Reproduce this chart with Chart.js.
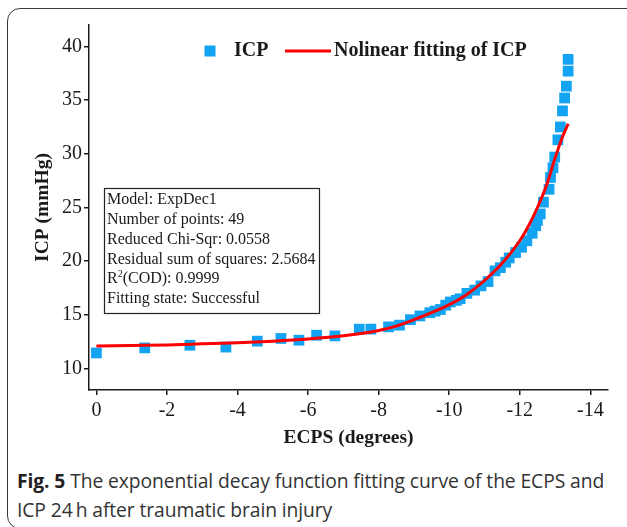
<!DOCTYPE html>
<html>
<head>
<meta charset="utf-8">
<script src="https://cdn.jsdelivr.net/npm/chart.js@4.4.1/dist/chart.umd.min.js"></script>
<style>
  body { margin: 0; background: #fff; width: 627px; height: 527px; overflow: hidden; position: relative; }
  .card { position: absolute; left: 7px; top: 8px; width: 700px; height: 519px; border: 1.5px solid #3a3a3a; border-radius: 13px; }
  #wrap { position: absolute; left: 0; top: 0; width: 627px; height: 460px; }
  .caption { position: absolute; left: 17px; top: 466px; width: 604px; font-family: "Open Sans", sans-serif; font-size: 19.3px; line-height: 29px; color: #333; letter-spacing: -0.1px; }
  .caption b { color: #222; }
</style>
</head>
<body>
<div class="card"></div>
<div id="wrap"><canvas id="chart" width="627" height="460"></canvas></div>
<div class="caption"><b>Fig. 5</b> The exponential decay function fitting curve of the ECPS and ICP 24&thinsp;h after traumatic brain injury</div>
<script>
// ── 資料 ──────────────────────────────
const ECPS = [0, -1.37, -2.65, -3.67, -4.56, -5.23, -5.74, -6.24, -6.76, -7.45,
  -7.78, -8.28, -8.59, -8.9, -9.17, -9.45, -9.6, -9.75, -9.9, -10.03,
  -10.2, -10.31, -10.5, -10.72, -10.9, -11.1, -11.3, -11.45, -11.6, -11.7,
  -11.88, -12.05, -12.2, -12.35, -12.45, -12.5, -12.58, -12.67, -12.83, -12.87,
  -12.94, -12.99, -13.08, -13.15, -13.21, -13.27, -13.32, -13.37, -13.37];
const ICP = [11.45, 11.92, 12.17, 12.0, 12.55, 12.8, 12.64, 13.1, 13.04, 13.67,
  13.67, 13.88, 14.04, 14.55, 14.9, 15.2, 15.35, 15.5, 15.9, 16.2,
  16.35, 16.5, 17.0, 17.3, 17.7, 18.1, 19.1, 19.4, 19.9, 20.3,
  20.8, 21.3, 21.9, 22.6, 23.3, 23.8, 24.4, 25.5, 26.7, 27.8,
  28.7, 29.7, 31.3, 32.5, 34.0, 35.2, 36.3, 37.7, 38.8];

// 擬合曲線
const FIT_X = [0, -1, -2, -3, -4, -5, -6, -7, -8, -8.5, -9, -9.5, -10, -10.5,
  -11, -11.5, -12, -12.25, -12.5, -12.75, -13, -13.2, -13.37];
const FIT_Y = [12.1, 12.15, 12.2, 12.3, 12.4, 12.55, 12.75, 13.05, 13.55, 13.95, 14.55, 15.2, 15.95, 16.9,
  18.2, 19.8, 21.9, 23.3, 25.0, 27.0, 29.6, 31.5, 32.8];

const X_TICKS = [0, -2, -4, -6, -8, -10, -12, -14];
const Y_TICKS = [10, 15, 20, 25, 30, 35, 40];

const STATS = [
  "Model: ExpDec1",
  "Number of points: 49",
  "Reduced Chi-Sqr: 0.0558",
  "Residual sum of squares: 2.5684",
  "R2(COD): 0.9999",
  "Fitting state: Successful",
];

const BLUE = "#12a4f2";
const RED = "#ff0000";
const INK = "#1a1a1a";
const SERIF = "'Liberation Serif', 'Times New Roman', serif";

// ── 圖例與統計框 ──────────────────────────
const overlay = {
  id: "overlay",
  afterDraw(chart) {
    const ctx = chart.ctx;
    ctx.save();
    ctx.textBaseline = "middle";
    ctx.fillStyle = INK;

    // legend
    const ly = 51;
    ctx.fillStyle = BLUE;
    ctx.fillRect(204.5, ly - 5.5, 11, 11);
    ctx.fillStyle = INK;
    ctx.font = "bold 20px " + SERIF;
    ctx.fillText("ICP", 234, ly);
    ctx.strokeStyle = RED;
    ctx.lineWidth = 3;
    ctx.beginPath();
    ctx.moveTo(285, ly);
    ctx.lineTo(331, ly);
    ctx.stroke();
    ctx.fillText("Nolinear fitting of ICP", 334, ly);

    // stats box
    ctx.strokeStyle = "#222";
    ctx.lineWidth = 1.2;
    ctx.strokeRect(104.5, 188.5, 215, 125);
    ctx.font = "16px " + SERIF;
    STATS.forEach((s, i) => {
      const y = 200 + i * 19.8;
      if (s.startsWith("R2")) {
        ctx.fillText("R", 107, y);
        const w = ctx.measureText("R").width;
        ctx.font = "10px " + SERIF;
        ctx.fillText("2", 107 + w, y - 5);
        const w2 = ctx.measureText("2").width;
        ctx.font = "16px " + SERIF;
        ctx.fillText(s.slice(2), 107 + w + w2, y);
      } else {
        ctx.fillText(s, 107, y);
      }
    });
    ctx.restore();
  },
};

new Chart(document.getElementById("chart"), {
  type: "scatter",
  data: {
    datasets: [
      {
        label: "ICP",
        data: ECPS.map((x, i) => ({ x, y: ICP[i] })),
        pointStyle: "rect",
        pointRadius: 7.6,
        pointHoverRadius: 7.6,
        pointBorderWidth: 0,
        backgroundColor: BLUE,
        borderColor: BLUE,
        order: 1,
      },
      {
        label: "Nolinear fitting of ICP",
        data: FIT_X.map((x, i) => ({ x, y: FIT_Y[i] })),
        showLine: true,
        pointRadius: 0,
        borderColor: RED,
        borderWidth: 3,
        cubicInterpolationMode: "monotone",
        order: 0,
      },
    ],
  },
  options: {
    responsive: false,
    animation: false,
    layout: { padding: { top: 25, right: 19, left: 0, bottom: 0 } },
    plugins: { legend: { display: false }, tooltip: { enabled: false } },
    scales: {
      x: {
        type: "linear",
        reverse: true,
        min: -14.5,
        max: 0.21,
        afterFit(scale) { scale.height = 70; },
        afterBuildTicks(scale) { scale.ticks = X_TICKS.map(v => ({ value: v })); },
        border: { display: true, color: INK, width: 1.5 },
        grid: { drawOnChartArea: false, drawTicks: true, tickLength: 5, color: INK, lineWidth: 1.5 },
        ticks: { color: INK, font: { family: SERIF, size: 20 }, padding: 4, maxRotation: 0 },
        title: {
          display: true,
          text: "ECPS (degrees)",
          color: INK,
          font: { family: SERIF, size: 19.5, weight: "bold" },
          padding: { top: 0, bottom: 10 },
        },
      },
      y: {
        type: "linear",
        min: 8,
        max: 42,
        afterFit(scale) { scale.width = 89; },
        afterBuildTicks(scale) { scale.ticks = Y_TICKS.map(v => ({ value: v })); },
        border: { display: true, color: INK, width: 1.5 },
        grid: { drawOnChartArea: false, drawTicks: true, tickLength: 5, color: INK, lineWidth: 1.5 },
        ticks: { color: INK, font: { family: SERIF, size: 20 }, padding: 2 },
        title: {
          display: true,
          text: "ICP (mmHg)",
          color: INK,
          font: { family: SERIF, size: 19.5, weight: "bold" },
          padding: { top: 31, bottom: 0 },
        },
      },
    },
  },
  plugins: [overlay],
});
</script>
</body>
</html>
